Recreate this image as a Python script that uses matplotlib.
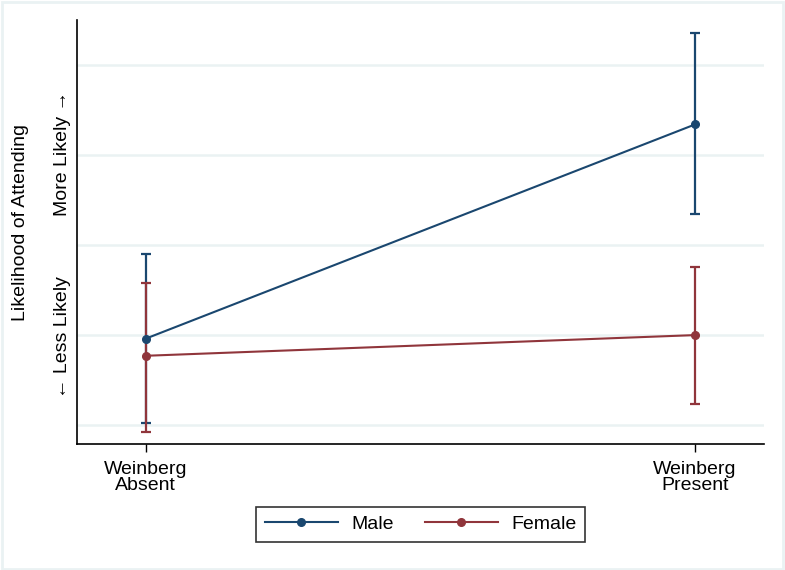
import matplotlib.pyplot as plt
from matplotlib.patches import Rectangle

plt.rcParams['font.family'] = ['Liberation Sans', 'DejaVu Sans']

# Data (arbitrary likelihood scale)
conditions = ['Weinberg\nAbsent', 'Weinberg\nPresent']
male_est = [0.096, 0.334]
male_lo = [0.002, 0.234]
male_hi = [0.190, 0.436]
female_est = [0.077, 0.100]
female_lo = [-0.008, 0.023]
female_hi = [0.158, 0.176]

navy = '#1a476f'
maroon = '#90353b'
grid_col = '#eaf2f3'

fig = plt.figure(figsize=(7.85, 5.7), dpi=100)
ax = fig.add_axes([0.098, 0.221, 0.875, 0.744])

x = list(range(len(conditions)))

def draw(est, lo, hi, color, label):
    yerr = [[e - l for e, l in zip(est, lo)], [h - e for e, h in zip(est, hi)]]
    ax.errorbar(x, est, yerr=yerr, fmt='none', ecolor=color, elinewidth=1.6,
                capsize=3.6, capthick=1.6, zorder=3)
    ax.plot(x, est, color=color, lw=1.5, marker='o', ms=5.5, label=label, zorder=4)

draw(male_est, male_lo, male_hi, navy, 'Male')
draw(female_est, female_lo, female_hi, maroon, 'Female')

ax.set_xlim(-0.125, 1.125)
ax.set_ylim(-0.021, 0.45)
ax.set_yticks([0.0, 0.1, 0.2, 0.3, 0.4])
ax.set_yticklabels([])
ax.tick_params(axis='y', length=0)
ax.grid(axis='y', color=grid_col, lw=1.8)
ax.set_axisbelow(True)
ax.set_xticks(x)
ax.set_xticklabels(conditions, fontsize=14, linespacing=0.95)
ax.tick_params(axis='x', length=6, width=1, pad=6)
for s in ['top', 'right']:
    ax.spines[s].set_visible(False)
for s in ['left', 'bottom']:
    ax.spines[s].set_linewidth(1.2)

# y-axis annotation
fig.text(0.026, 0.61, 'Likelihood of Attending', rotation=90, ha='center',
         va='center', fontsize=14)
fig.text(0.079, 0.730, 'More Likely \u2192', rotation=90, ha='center',
         va='center', fontsize=14)
fig.text(0.079, 0.408, '\u2190 Less Likely', rotation=90, ha='center',
         va='center', fontsize=14)

leg = fig.legend(loc='center', bbox_to_anchor=(0.536, 0.0805), ncol=2,
                 fontsize=14, frameon=True, fancybox=False, edgecolor='black',
                 handlelength=3.75, handletextpad=0.7, columnspacing=1.6,
                 borderpad=0.45)
leg.get_frame().set_linewidth(1.2)

# light outer border
fig.patches.append(Rectangle((0.002, 0.002), 0.995, 0.995, transform=fig.transFigure,
                             fill=False, edgecolor=grid_col, lw=2))

fig.savefig('out.png', dpi=100)
